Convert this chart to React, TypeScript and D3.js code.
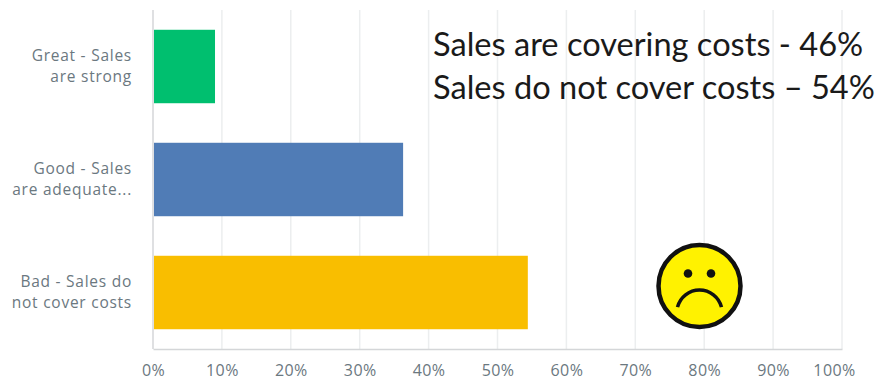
import { useEffect, useRef } from "react";
import * as d3 from "d3";

const WIDTH = 877;
const HEIGHT = 380;
const MARGIN = { top: 10, right: 35, bottom: 31, left: 153 };

const categories = ["great", "good", "bad"];
const categoryLines = [
  ["Great - Sales", "are strong"],
  ["Good - Sales", "are adequate..."],
  ["Bad - Sales do", "not cover costs"],
];
const percentages = [9, 36.3, 54.4];
const barColors = ["#00bf6f", "#507cb6", "#f9be00"];
const xTicks = [0, 10, 20, 30, 40, 50, 60, 70, 80, 90, 100];
const notes = ["Sales are covering costs - 46%", "Sales do not cover costs \u2013 54%"];

export default function App() {
  const axesRef = useRef<SVGGElement>(null);
  const boundsWidth = WIDTH - MARGIN.left - MARGIN.right;
  const boundsHeight = HEIGHT - MARGIN.top - MARGIN.bottom;

  const xScale = d3.scaleLinear().domain([0, 100]).range([0, boundsWidth]);
  const yScale = d3
    .scaleBand<string>()
    .domain(categories)
    .range([0, boundsHeight])
    .paddingInner(0.35)
    .paddingOuter(0.175);

  // axis through d3, bars and the rest as JSX
  useEffect(() => {
    const g = d3.select(axesRef.current);
    g.selectAll("*").remove();
    const xAxis = d3
      .axisBottom(xScale)
      .tickValues(xTicks)
      .tickSize(0)
      .tickPadding(16)
      .tickFormat((d) => `${d}%`);
    const axisG = g
      .append("g")
      .attr("transform", `translate(0,${boundsHeight})`)
      .call(xAxis);
    axisG.select(".domain").attr("stroke", "#d4d6d8").attr("stroke-width", 1.5);
    axisG
      .selectAll("text")
      .attr("fill", "#6b787f")
      .attr("font-size", 16)
      .attr("letter-spacing", 0.4)
      .attr("font-family", "'Open Sans', sans-serif");
    // last label sits pulled in from its gridline
    axisG
      .selectAll<SVGTextElement, number>("text")
      .filter((d) => d === 100)
      .attr("dx", -8);
  }, []);

  const frown = d3.arc()({
    innerRadius: 22.7,
    outerRadius: 22.7,
    startAngle: -1.32,
    endAngle: 1.32,
  });

  return (
    <svg
      width={WIDTH}
      height={HEIGHT}
      style={{ position: "absolute", left: 0, top: 0, background: "#fff" }}
    >
      <g transform={`translate(${MARGIN.left},${MARGIN.top})`}>
        {xTicks.slice(1).map((t) => (
          <line
            key={t}
            x1={xScale(t)}
            x2={xScale(t)}
            y1={0}
            y2={boundsHeight}
            stroke="#eceeef"
            strokeWidth={1.5}
          />
        ))}
        <line x1={0} x2={0} y1={0} y2={boundsHeight} stroke="#d4d6d8" strokeWidth={1.5} />
        {categories.map((c, i) => (
          <rect
            key={c}
            x={1}
            y={yScale(c)}
            width={xScale(percentages[i]) - 1}
            height={yScale.bandwidth()}
            fill={barColors[i]}
          />
        ))}
        {categories.map((c, i) => (
          <text
            key={c}
            textAnchor="end"
            fontSize={15.5}
            letterSpacing={0.75}
            fontFamily="'Open Sans', sans-serif"
            fill="#6b787f"
          >
            {categoryLines[i].map((line, j) => (
              <tspan key={j} x={-21} y={(yScale(c) ?? 0) + yScale.bandwidth() / 2 + (j === 0 ? -6 : 15)}>
                {line}
              </tspan>
            ))}
          </text>
        ))}
        <g ref={axesRef} />
      </g>

      {notes.map((n, i) => (
        <text
          key={n}
          x={433}
          y={56 + i * 43}
          fontSize={32.6}
          fontFamily="Lato, sans-serif"
          fill="#1a1a1a"
        >
          {n}
        </text>
      ))}

      <g transform="translate(699.5,286)">
        <circle r={41} fill="#fff200" stroke="#111" strokeWidth={4.5} />
        <circle cx={-11.5} cy={-12.5} r={4.3} fill="#111" />
        <circle cx={11.5} cy={-12.5} r={4.3} fill="#111" />
        <path
          d={frown ?? ""}
          transform="translate(0,26.7)"
          fill="none"
          stroke="#111"
          strokeWidth={3.5}
          strokeLinecap="round"
        />
      </g>
    </svg>
  );
}
